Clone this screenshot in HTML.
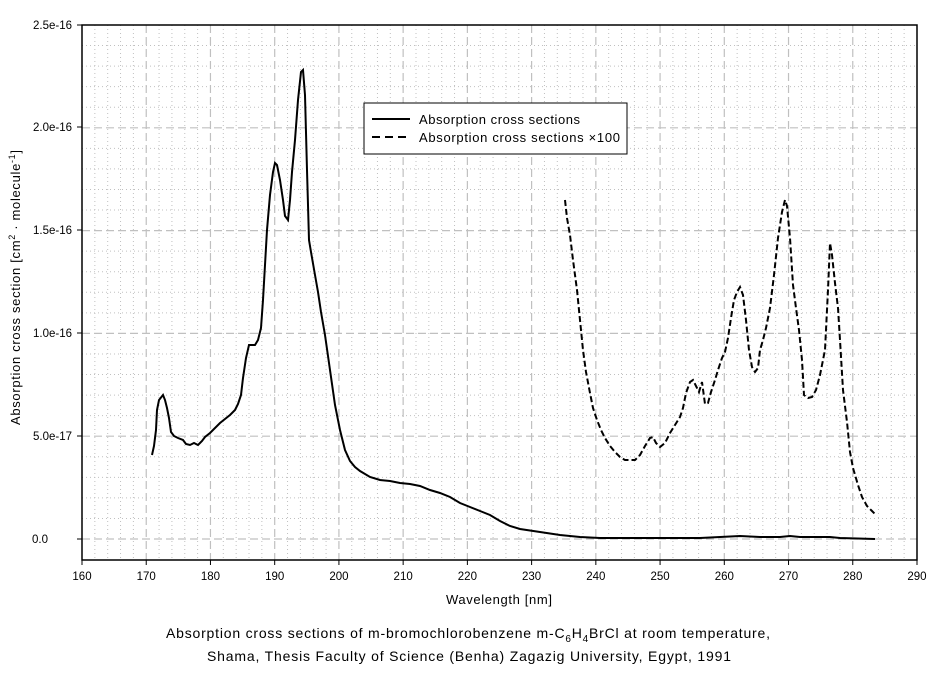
<!DOCTYPE html>
<html><head><meta charset="utf-8"><style>
body{margin:0;background:#fff;width:942px;height:668px;overflow:hidden}
svg{font-family:"Liberation Sans",Arial,sans-serif}
</style></head><body>
<svg width="942" height="668" viewBox="0 0 942 668" xmlns="http://www.w3.org/2000/svg">
<g id="grid"></g>
<rect x="82" y="25" width="835" height="535" fill="none" stroke="#000" stroke-width="1.5"/>
<g font-size="11.5" fill="#000" text-anchor="end">
<text x="72" y="29">2.5e-16</text>
<text x="72" y="131">2.0e-16</text>
<text x="72" y="234">1.5e-16</text>
<text x="72" y="337">1.0e-16</text>
<text x="72" y="440">5.0e-17</text>
<text x="48" y="543">0.0</text>
</g>
<g stroke="#000" stroke-width="1">
<line x1="77" y1="25" x2="82" y2="25"/><line x1="77" y1="127" x2="82" y2="127"/><line x1="77" y1="230" x2="82" y2="230"/><line x1="77" y1="333" x2="82" y2="333"/><line x1="77" y1="436" x2="82" y2="436"/><line x1="77" y1="539" x2="82" y2="539"/>
</g>
<g id="xt" font-size="11.5" text-anchor="middle"></g>
<text x="446" y="604" font-size="13" textLength="106" lengthAdjust="spacing">Wavelength [nm]</text>
<text transform="translate(20,425) rotate(-90)" font-size="13" textLength="275" lengthAdjust="spacing">Absorption cross section [cm<tspan font-size="9" dy="-5">2</tspan><tspan dy="5"> · molecule</tspan><tspan font-size="9" dy="-5">-1</tspan><tspan dy="5">]</tspan></text>
<text x="166" y="638" font-size="14" textLength="604" lengthAdjust="spacing">Absorption cross sections of m-bromochlorobenzene m-C<tspan font-size="10" dy="4">6</tspan><tspan dy="-4">H</tspan><tspan font-size="10" dy="4">4</tspan><tspan dy="-4">BrCl at room temperature,</tspan></text>
<text x="207" y="661" font-size="14" textLength="524" lengthAdjust="spacing">Shama, Thesis Faculty of Science (Benha) Zagazig University, Egypt, 1991</text>
<polyline fill="none" stroke="#000" stroke-width="2" points="152,455 154,446 156,430 157,410 159,400 163,395 165,400 167,408 169,418 171,432 174,436 178,438 183,440 186,444 190,445 194,443 198,445 202,441 205,437 210,433 215,428 220,423 225,419 230,415 235,410 238,404 241,395 243,378 246,358 249,345 252,345 255,345 258,340 261,328 263,300 265,265 267,230 270,195 273,172 275,163 277,165 280,180 283,200 285,216 288,220 290,200 292,172 295,140 298,100 301,72 303,70 305,95 307,170 309,240 311,252 315,275 318,292 321,312 325,335 330,370 335,405 340,430 345,450 350,461 355,467 360,471 370,477 380,480 390,481 400,483 410,484 420,486 430,490 440,493 450,497 460,503 470,507 480,511 490,515 500,521 510,526 520,529 540,532 560,535 580,537 600,538 650,538 700,538 720,537 740,536 760,537 780,537 790,536 800,537 830,537 840,538 875,539"/>
<polyline fill="none" stroke="#000" stroke-width="2" stroke-dasharray="6,3" points="565,200 567,218 570,235 573,260 577,290 580,320 583,350 586,372 590,393 593,408 597,420 601,430 605,438 610,446 615,452 620,457 625,460 630,460 635,460 640,455 645,446 650,438 653,437 656,443 660,447 665,443 670,433 675,425 680,417 683,408 686,393 690,382 693,380 696,386 699,392 702,382 705,404 708,403 711,392 715,380 718,370 722,358 725,352 728,338 731,318 734,300 737,292 740,287 743,295 746,320 749,350 752,367 755,372 758,368 760,350 763,340 766,328 770,308 774,275 778,238 782,212 785,200 787,206 790,238 793,285 796,308 799,330 802,360 804,395 808,398 812,397 816,390 820,375 825,350 828,290 830,243 832,255 835,283 838,308 840,340 843,390 847,422 850,452 853,468 858,485 862,497 867,506 872,511 876,515"/>
<rect x="364" y="103" width="263" height="51" fill="#fff" stroke="#000" stroke-width="1"/>
<line x1="372" y1="119" x2="410" y2="119" stroke="#000" stroke-width="2"/>
<line x1="372" y1="137" x2="410" y2="137" stroke="#000" stroke-width="2" stroke-dasharray="8,5"/>
<g font-size="13"><text x="419" y="124" textLength="161" lengthAdjust="spacing">Absorption cross sections</text><text x="419" y="142" textLength="201" lengthAdjust="spacing">Absorption cross sections ×100</text></g>
</svg>
<script>
var ns="http://www.w3.org/2000/svg",g=document.getElementById("grid"),xt=document.getElementById("xt");
function ln(x1,y1,x2,y2,d,w){var l=document.createElementNS(ns,"line");l.setAttribute("x1",x1);l.setAttribute("y1",y1);l.setAttribute("x2",x2);l.setAttribute("y2",y2);l.setAttribute("stroke","#c0c0c0");l.setAttribute("stroke-width",w||1);l.setAttribute("stroke-dasharray",d);g.appendChild(l);}
for(var n=162;n<290;n+=2){var x=82+(n-160)*6.423;if(n%10==0)ln(x,25,x,560,"8,4",1.2);else ln(x,25,x,560,"1,3");}
for(var k=1;k<=25;k++){var y=539-k*20.56;if(y<26)continue;if(k%5==0)ln(82,y,917,y,"8,4",1.2);else ln(82,y,917,y,"1,3");}
ln(82,539,917,539,"8,4",1.2);
for(var n=160;n<=290;n+=10){var x=82+(n-160)*6.423;var t=document.createElementNS(ns,"text");t.setAttribute("x",x);t.setAttribute("y",580);t.textContent=n;xt.appendChild(t);var l=document.createElementNS(ns,"line");l.setAttribute("x1",x);l.setAttribute("x2",x);l.setAttribute("y1",560);l.setAttribute("y2",565);l.setAttribute("stroke","#000");xt.appendChild(l);}
</script>
</body></html>
